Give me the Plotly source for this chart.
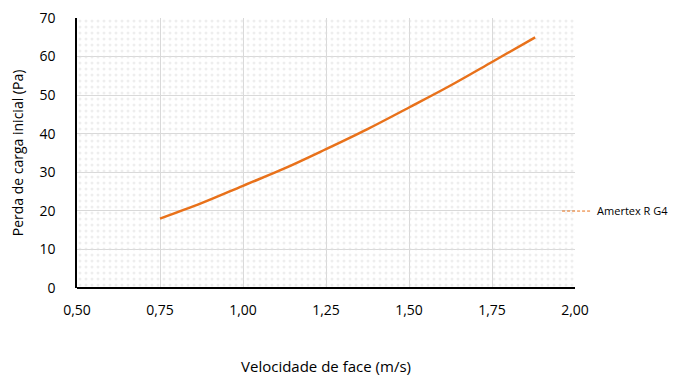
import plotly.graph_objects as go

velocidade = [0.75, 0.875, 1.00, 1.125, 1.25, 1.375, 1.50, 1.625, 1.75, 1.88]
perda = [18.0, 22.0, 26.5, 31.0, 36.0, 41.2, 46.8, 52.5, 58.6, 65.0]
serie_nome = "Amertex R G4"
x_ticks = [0.50, 0.75, 1.00, 1.25, 1.50, 1.75, 2.00]
x_tick_labels = ["0,50", "0,75", "1,00", "1,25", "1,50", "1,75", "2,00"]
y_ticks = [0, 10, 20, 30, 40, 50, 60, 70]
x_range = [0.50, 2.00]
y_range = [0, 70]

fig = go.Figure()

# background texture of the plot area
fig.add_trace(go.Scatter(
    x=[x_range[0], x_range[1], x_range[1], x_range[0], x_range[0]],
    y=[y_range[0], y_range[0], y_range[1], y_range[1], y_range[0]],
    mode="none", fill="toself", fillcolor="rgba(0,0,0,0)",
    fillpattern=dict(shape=".", fgcolor="#dedede", bgcolor="rgba(255,255,255,0)", size=6, solidity=0.2),
    showlegend=False, hoverinfo="skip",
))

fig.add_trace(go.Scatter(
    x=velocidade, y=perda, mode="lines", name=serie_nome,
    line=dict(color="#E8711A", width=2.5, shape="spline"),
    showlegend=False,
))
fig.add_trace(go.Scatter(
    x=[None], y=[None], mode="lines", name=serie_nome,
    line=dict(color="#E8711A", width=1, dash="3px,2px"),
))

font_family = "Open Sans, Noto Sans, sans-serif"
fig.update_layout(
    width=680, height=379,
    margin=dict(l=69, r=113, t=10, b=99, autoexpand=False),
    paper_bgcolor="white", plot_bgcolor="white",
    font=dict(family=font_family, size=14, color="black"),
    legend=dict(x=0.964, xanchor="left", y=0.285, yanchor="middle",
                font=dict(size=11), bgcolor="rgba(0,0,0,0)", itemwidth=30),
    xaxis=dict(range=x_range, tickvals=x_ticks, ticktext=x_tick_labels,
               showgrid=True, gridcolor="#d9d9d9", gridwidth=1,
               zeroline=False, showline=False, ticks="", ticklen=0,
               ticklabelstandoff=12, automargin=False, ticklabeloverflow="allow",
               title=dict(text="Velocidade de face (m/s)", standoff=43, font=dict(size=15))),
    yaxis=dict(range=y_range, tickvals=y_ticks,
               showgrid=True, gridcolor="#d9d9d9", gridwidth=1,
               zeroline=True, zerolinecolor="black", zerolinewidth=2,
               showline=True, linecolor="black", linewidth=1.5,
               ticks="", ticklabelstandoff=17, automargin=False,
               ticklabeloverflow="allow",
               title=dict(text="Perda de carga inicial (Pa)", standoff=18, font=dict(size=14))),
)

fig.write_html("out.html")
